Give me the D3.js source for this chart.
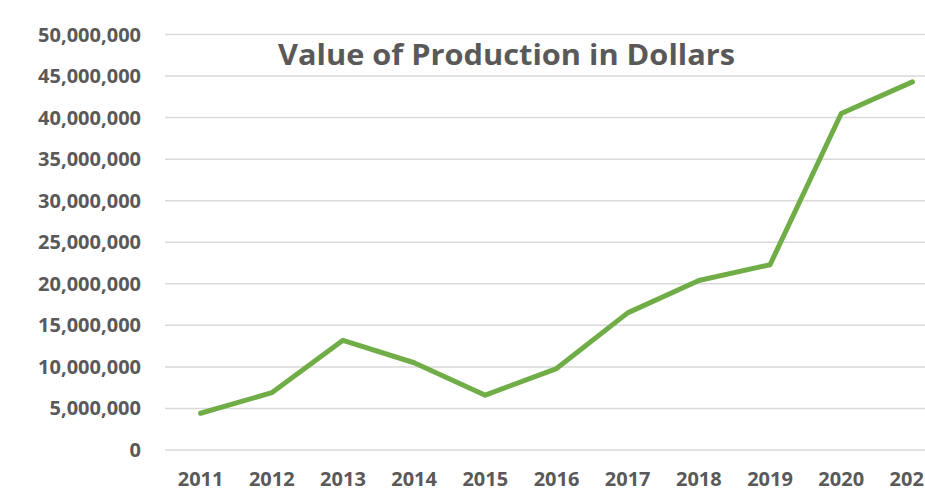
<!DOCTYPE html>
<html>
<head>
  <meta charset="UTF-8">
  <style>
    body { margin: 0; background: #fff; }
    text { font-family: "Open Sans", sans-serif; font-weight: bold; fill: #595959; }
  </style>
</head>
<body>
<svg></svg>
<script src="https://d3js.org/d3.v7.min.js"></script>
<script>

let width = 925, height = 492;

// data
let years = ["2011", "2012", "2013", "2014", "2015", "2016", "2017", "2018", "2019", "2020", "2021"];
let values = [4420000, 6900000, 13200000, 10500000, 6600000, 9800000, 16500000, 20400000, 22300000, 40500000, 44300000];
let yTicks = [0, 5000000, 10000000, 15000000, 20000000, 25000000, 30000000, 35000000, 40000000, 45000000, 50000000];
let title = "Value of Production in Dollars";

let svg = d3.select("svg")
    .attr("width", width)
    .attr("height", height);

// plot area runs past the right edge, like the original crop
let x = d3.scaleBand()
    .domain(years)
    .range([165, 948]);

let y = d3.scaleLinear()
    .domain([0, 50000000])
    .range([450, 34.5]);

// gridlines
svg.append("g")
    .selectAll("line")
    .data(yTicks)
    .enter()
    .append("line")
    .attr("x1", 165)
    .attr("x2", 948)
    .attr("y1", d => y(d))
    .attr("y2", d => y(d))
    .attr("stroke", "#d9d9d9")
    .attr("stroke-width", 1.5);

// y labels
svg.append("g")
    .selectAll("text")
    .data(yTicks)
    .enter()
    .append("text")
    .attr("x", 141)
    .attr("y", d => y(d))
    .attr("dy", "0.35em")
    .attr("text-anchor", "end")
    .attr("font-size", "20px")
    .text(d => d3.format(",")(d));

// x labels
svg.append("g")
    .selectAll("text")
    .data(years)
    .enter()
    .append("text")
    .attr("x", d => x(d) + x.bandwidth() / 2)
    .attr("y", 486)
    .attr("text-anchor", "middle")
    .attr("font-size", "20px")
    .text(d => d);

// the line
let line = d3.line()
    .x((d, i) => x(years[i]) + x.bandwidth() / 2)
    .y(d => y(d));

svg.append("path")
    .datum(values)
    .attr("d", line)
    .attr("fill", "none")
    .attr("stroke", "#70ad47")
    .attr("stroke-width", 5)
    .attr("stroke-linejoin", "round")
    .attr("stroke-linecap", "round");

// title
svg.append("text")
    .attr("x", 506.5)
    .attr("y", 65)
    .attr("text-anchor", "middle")
    .attr("font-size", "29px")
    .attr("textLength", 457)
    .attr("lengthAdjust", "spacingAndGlyphs")
    .text(title);

</script>
</body>
</html>
